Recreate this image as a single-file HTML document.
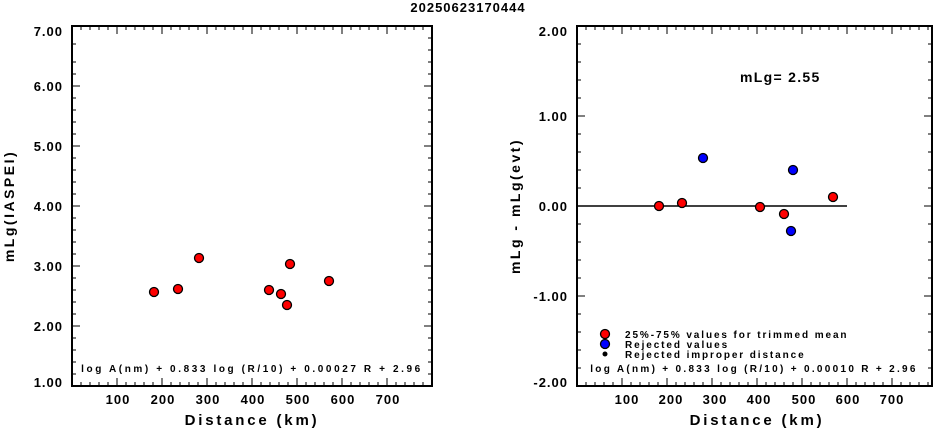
<!DOCTYPE html>
<html><head><style>
body{margin:0;background:#fff}
svg{display:block}
text{font-family:"Liberation Sans",sans-serif;font-weight:bold;fill:#000}
</style></head><body>
<svg width="937" height="428" xmlns="http://www.w3.org/2000/svg">
<text x="468" y="12" font-size="13" text-anchor="middle" letter-spacing="1">20250623170444</text>
<rect x="72" y="26" width="360" height="360" fill="none" stroke="#000" stroke-width="2"/>
<g stroke="#000" stroke-width="1">
<path id="lt" d="
M81,386v-4M90,386v-4M99,386v-4M108,386v-4M117,386v-8M126,386v-4M135,386v-4M144,386v-4M153,386v-4M162,386v-8M171,386v-4M180,386v-4M189,386v-4M198,386v-4M207,386v-8M216,386v-4M225,386v-4M234,386v-4M243,386v-4M252,386v-8M261,386v-4M270,386v-4M279,386v-4M288,386v-4M297,386v-8M306,386v-4M315,386v-4M324,386v-4M333,386v-4M342,386v-8M351,386v-4M360,386v-4M369,386v-4M378,386v-4M387,386v-8M396,386v-4M405,386v-4M414,386v-4M423,386v-4
M81,26v4M90,26v4M99,26v4M108,26v4M117,26v8M126,26v4M135,26v4M144,26v4M153,26v4M162,26v8M171,26v4M180,26v4M189,26v4M198,26v4M207,26v8M216,26v4M225,26v4M234,26v4M243,26v4M252,26v8M261,26v4M270,26v4M279,26v4M288,26v4M297,26v8M306,26v4M315,26v4M324,26v4M333,26v4M342,26v8M351,26v4M360,26v4M369,26v4M378,26v4M387,26v8M396,26v4M405,26v4M414,26v4M423,26v4"/>
</g>
<g font-size="13" text-anchor="middle" letter-spacing="1">
<text x="118" y="404">100</text><text x="163" y="404">200</text><text x="208" y="404">300</text><text x="253" y="404">400</text><text x="298" y="404">500</text><text x="343" y="404">600</text><text x="388" y="404">700</text>
<text x="252" y="425" font-size="15" letter-spacing="2.8">Distance (km)</text>
<text x="627" y="404">100</text><text x="671" y="404">200</text><text x="715" y="404">300</text><text x="759" y="404">400</text><text x="804" y="404">500</text><text x="848" y="404">600</text><text x="892" y="404">700</text>
<text x="757" y="425" font-size="15" letter-spacing="2.8">Distance (km)</text>
</g>
<g font-size="13" text-anchor="end" letter-spacing="1">
<text x="63" y="36">7.00</text><text x="63" y="91">6.00</text><text x="63" y="151">5.00</text><text x="63" y="211">4.00</text><text x="63" y="271">3.00</text><text x="63" y="331">2.00</text><text x="63" y="387">1.00</text>
<text x="568" y="36">2.00</text><text x="568" y="121">1.00</text><text x="568" y="211">0.00</text><text x="568" y="301">-1.00</text><text x="568" y="387">-2.00</text>
</g>
<text transform="translate(14,206) rotate(-90)" font-size="14" text-anchor="middle" letter-spacing="2.5">mLg(IASPEI)</text>
<text transform="translate(520,206) rotate(-90)" font-size="14" text-anchor="middle" letter-spacing="2.5">mLg - mLg(evt)</text>
<text x="252" y="372" font-size="10" text-anchor="middle" letter-spacing="2.6">log A(nm) + 0.833 log (R/10) + 0.00027 R + 2.96</text>
<rect x="577" y="26" width="355" height="360" fill="none" stroke="#000" stroke-width="2"/>
<text x="754" y="372" font-size="10" text-anchor="middle" letter-spacing="2.3">log A(nm) + 0.833 log (R/10) + 0.00010 R  + 2.96</text>
<text x="740" y="82" font-size="14" letter-spacing="1.3">mLg= 2.55</text>
<line x1="577" y1="206" x2="847" y2="206" stroke="#000" stroke-width="1.5"/>
<g stroke="#000" stroke-width="1">
<path d="M72,44h4M72,62h4M72,74h4M72,86h8M72,98h4M72,110h4M72,122h4M72,134h4M72,146h8M72,158h4M72,170h4M72,182h4M72,194h4M72,206h8M72,218h4M72,230h4M72,242h4M72,254h4M72,266h8M72,278h4M72,290h4M72,302h4M72,314h4M72,326h8M72,338h4M72,350h4M72,362h4M72,374h4
M432,38h-4M432,50h-4M432,62h-4M432,74h-4M432,86h-8M432,98h-4M432,110h-4M432,122h-4M432,134h-4M432,146h-8M432,158h-4M432,170h-4M432,182h-4M432,194h-4M432,206h-8M432,218h-4M432,230h-4M432,242h-4M432,254h-4M432,266h-8M432,278h-4M432,290h-4M432,302h-4M432,314h-4M432,326h-8M432,338h-4M432,350h-4M432,362h-4M432,374h-4
M577,44h4M577,62h4M577,80h4M577,98h4M577,116h8M577,134h4M577,152h4M577,170h4M577,188h4M577,206h8M577,224h4M577,242h4M577,260h4M577,278h4M577,296h8M577,314h4M577,332h4M577,350h4M577,368h4
M932,44h-4M932,62h-4M932,80h-4M932,98h-4M932,116h-8M932,134h-4M932,152h-4M932,170h-4M932,188h-4M932,206h-8M932,224h-4M932,242h-4M932,260h-4M932,278h-4M932,296h-8M932,314h-4M932,332h-4M932,350h-4M932,368h-4"/>
<use href="#lt" transform="translate(505,0)"/>
</g>
<g stroke="#000" stroke-width="1.3" fill="#f00">
<circle cx="154" cy="292" r="4.5"/><circle cx="178" cy="289" r="4.5"/><circle cx="199" cy="258" r="4.5"/><circle cx="269" cy="290" r="4.5"/><circle cx="281" cy="294" r="4.5"/><circle cx="287" cy="305" r="4.5"/><circle cx="290" cy="264" r="4.5"/><circle cx="329" cy="281" r="4.5"/>
<circle cx="659" cy="206" r="4.5"/><circle cx="682" cy="203" r="4.5"/><circle cx="760" cy="207" r="4.5"/><circle cx="784" cy="214" r="4.5"/><circle cx="833" cy="197" r="4.5"/>
<circle cx="605" cy="334" r="4.5"/>
</g>
<g stroke="#000" stroke-width="1.3" fill="#00f">
<circle cx="703" cy="158" r="4.5"/><circle cx="793" cy="170" r="4.5"/><circle cx="791" cy="231" r="4.5"/>
<circle cx="605" cy="344" r="4.5"/>
</g>
<circle cx="605" cy="354" r="2.5" fill="#000"/>
<g font-size="10" letter-spacing="1.9">
<text x="625" y="338">25%-75% values for trimmed mean</text>
<text x="625" y="348">Rejected values</text>
<text x="625" y="358">Rejected improper distance</text>
</g>
</svg>
</body></html>
